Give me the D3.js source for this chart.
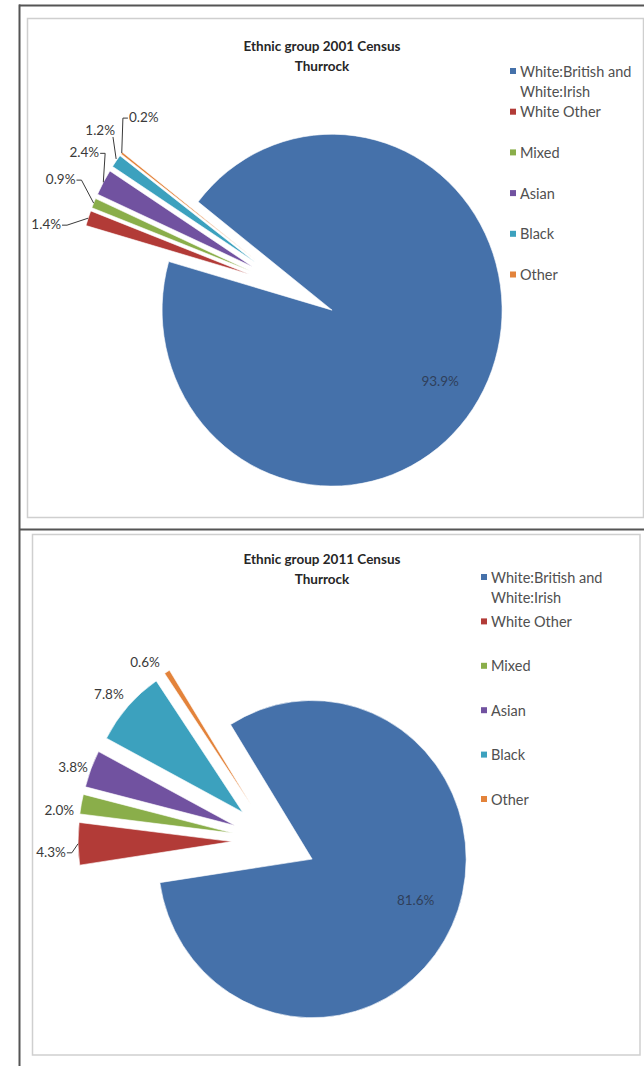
<!DOCTYPE html>
<html>
<head>
<meta charset="utf-8">
<script src="https://cdn.jsdelivr.net/npm/d3@7"></script>
<style>
body { margin: 0; background: #fff; }
svg { display: block; }
text { font-family: Lato, "Open Sans", sans-serif; }
</style>
</head>
<body>
<svg id="chart" width="644" height="1066"></svg>
<script>
// data
var categories = ["White:British and White:Irish", "White Other", "Mixed", "Asian", "Black", "Other"]
var legendLines = [["White:British and", "White:Irish"], ["White Other"], ["Mixed"], ["Asian"], ["Black"], ["Other"]]
var values2001 = [93.9, 1.4, 0.9, 2.4, 1.2, 0.2]
var values2011 = [81.6, 4.3, 2.0, 3.8, 7.8, 0.6]
var title2001 = ["Ethnic group 2001 Census", "Thurrock"]
var title2011 = ["Ethnic group 2011 Census", "Thurrock"]

var colors = ["#4571aa", "#b23b37", "#8aae4a", "#7152a0", "#3ca1be", "#e3833b"]

// layout of the two panels
var panels = [
    {
        values: values2001, title: title2001,
        cx: 292, cy: 289, r: 170, sy: 1.035, explode: 45, start: 308,
        titleX: 322, titleY: 46,
        legendX: 510, legendY: 71, legendStep: 40.7,
        // label offsets from the slice's outer mid point (first one: from inside point)
        labelOffsets: [[-4, 12], [-42, 6], [-33, -24], [-19, -30], [-16, -31], [22, -36]],
        leaders: [false, true, true, true, true, true]
    },
    {
        values: values2011, title: title2011,
        cx: 274, cy: 841, r: 154, sy: 1.03, explode: 42, start: 328,
        titleX: 322, titleY: 559,
        legendX: 481, legendY: 577, legendStep: 44.4,
        labelOffsets: [[0, -8], [-27, 8], [-22, 6], [-18, -2], [-19, -12], [-22, -10]],
        leaders: [false, true, false, false, false, false]
    }
]

var svg = d3.select("#chart")

// frames
var frame = svg.append("g")
frame.append("rect").attr("x", 27.5).attr("y", 18.5).attr("width", 616).attr("height", 499)
    .attr("fill", "none").attr("stroke", "#cfcfcf").attr("stroke-width", 1.5)
frame.append("rect").attr("x", 32.5).attr("y", 534.5).attr("width", 607.5).attr("height", 520.5)
    .attr("fill", "none").attr("stroke", "#cfcfcf").attr("stroke-width", 1.5)
frame.append("line").attr("x1", 19.5).attr("x2", 19.5).attr("y1", 4.5).attr("y2", 1066)
    .attr("stroke", "#555").attr("stroke-width", 2)
frame.append("line").attr("x1", 19).attr("x2", 644).attr("y1", 5.5).attr("y2", 5.5)
    .attr("stroke", "#555").attr("stroke-width", 2)
frame.append("line").attr("x1", 19).attr("x2", 644).attr("y1", 529.5).attr("y2", 529.5)
    .attr("stroke", "#555").attr("stroke-width", 2)

var rad = Math.PI / 180
var dir = function(a) { return [Math.sin(a), -Math.cos(a)] }

var drawPanel = function(p) {
    var pie = d3.pie().sort(null).value(function(d) { return d })
        .startAngle(p.start * rad).endAngle(p.start * rad + 2 * Math.PI)
    var arcs = pie(p.values)
    var arc = d3.arc().innerRadius(0).outerRadius(p.r)
    var rim = d3.arc().innerRadius(p.r).outerRadius(p.r)
    var inner = d3.arc().innerRadius(p.r * 0.74).outerRadius(p.r * 0.74)

    // pie is drawn slightly stretched vertically, like the picture
    var g = svg.append("g").attr("transform", "translate(" + p.cx + "," + p.cy + ") scale(1," + p.sy + ")")
    var lab = svg.append("g").attr("transform", "translate(" + p.cx + "," + p.cy + ")")
    var shift = function(d) {
        var v = dir((d.startAngle + d.endAngle) / 2)
        return [v[0] * p.explode, v[1] * p.explode]
    }

    g.selectAll("path.slice")
        .data(arcs)
        .join("path")
        .attr("class", "slice")
        .attr("transform", function(d) { var s = shift(d); return "translate(" + s[0] + "," + s[1] + ")" })
        .attr("d", arc)
        .attr("fill", function(d, i) { return colors[i] })
        .attr("stroke", "#fff")
        .attr("stroke-width", 0.6)

    arcs.forEach(function(d, i) {
        var s = shift(d)
        var base = i === 0 ? inner.centroid(d) : rim.centroid(d)
        var px = base[0] + s[0], py = (base[1] + s[1]) * p.sy
        var off = p.labelOffsets[i]
        var lx = px + off[0], ly = py + off[1]
        var label = d3.format(".1f")(d.data) + "%"
        var t = lab.append("text")
            .attr("x", lx).attr("y", ly)
            .attr("text-anchor", "middle")
            .attr("dominant-baseline", "central")
            .style("font-size", "13.5px")
            .attr("fill", i === 0 ? "#2f3f5a" : "#3a3a3a")
            .text(label)
        if (p.leaders[i]) {
            var hw = t.node().getComputedTextLength() / 2
            var side = px >= lx ? 1 : -1
            var sx, sy
            if (Math.abs(px - lx) > hw + 4) {
                sx = lx + side * (hw + 1); sy = ly + 1
                lab.append("path")
                    .attr("d", "M" + sx + "," + sy + "H" + (sx + side * 5) + "L" + px + "," + py)
                    .attr("fill", "none").attr("stroke", "#3a3a3a").attr("stroke-width", 1)
            } else {
                sx = lx + side * (hw - 2); sy = ly + 7
                lab.append("path")
                    .attr("d", "M" + sx + "," + sy + "L" + px + "," + (py - 2))
                    .attr("fill", "none").attr("stroke", "#3a3a3a").attr("stroke-width", 1)
            }
        }
    })

    // title
    svg.append("g").selectAll("text")
        .data(p.title)
        .join("text")
        .attr("x", p.titleX)
        .attr("y", function(d, i) { return p.titleY + i * 20 })
        .attr("text-anchor", "middle")
        .attr("dominant-baseline", "central")
        .style("font-size", "13.5px")
        .style("font-weight", "bold")
        .attr("fill", "#262626")
        .text(function(d) { return d })

    // legend
    var lg = svg.append("g").selectAll("g")
        .data(categories)
        .join("g")
        .attr("transform", function(d, i) { return "translate(" + p.legendX + "," + (p.legendY + i * p.legendStep) + ")" })
    lg.append("rect")
        .attr("x", 0).attr("y", -3).attr("width", 6).attr("height", 6)
        .attr("fill", function(d, i) { return colors[i] })
    lg.each(function(d, i) {
        d3.select(this).selectAll("text")
            .data(legendLines[i])
            .join("text")
            .attr("x", 10)
            .attr("y", function(s, j) { return j * 20 })
            .attr("dominant-baseline", "central")
            .style("font-size", "14.5px")
            .attr("fill", "#505050")
            .text(function(s) { return s })
    })
}

panels.forEach(drawPanel)
</script>
</body>
</html>
